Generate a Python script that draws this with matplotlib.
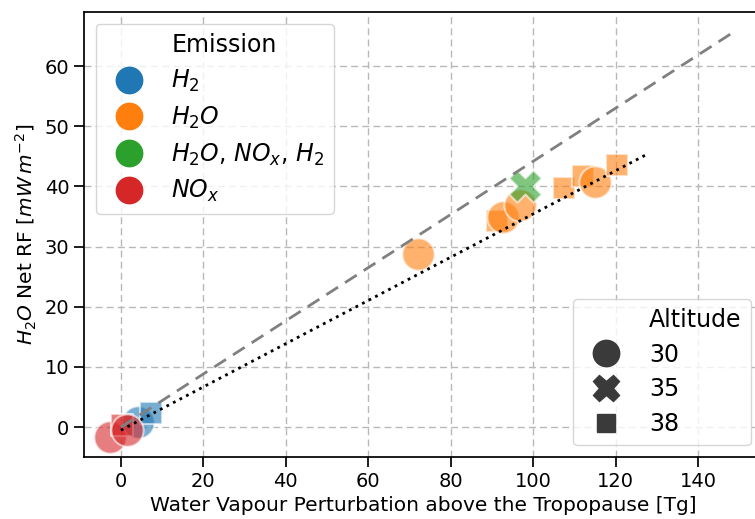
import matplotlib
matplotlib.use("Agg")
import matplotlib.pyplot as plt
from matplotlib.lines import Line2D

# data
emission = ["H2O", "H2O", "H2O", "H2O", "H2O", "H2O", "H2O", "H2O",
            "H2O, NOx, H2", "H2", "H2", "NOx", "NOx", "NOx"]
altitude = [30, 38, 30, 30, 38, 38, 30, 38,
            35, 30, 38, 30, 38, 30]
wv_tg = [72.1, 91.3, 92.7, 96.8, 107.5, 112.0, 115.0, 120.4,
         98.0, 4.2, 7.4, -2.7, 0.2, 1.5]
net_rf = [28.7, 34.3, 35.0, 37.0, 39.8, 41.8, 40.8, 43.5,
          40.0, 0.8, 2.3, -1.7, 0.3, -0.5]

emission_order = ["H2", "H2O", "H2O, NOx, H2", "NOx"]
emission_labels = ["$H_2$", "$H_2O$", "$H_2O$, $NO_x$, $H_2$", "$NO_x$"]
emission_colors = ["#1f77b4", "#ff7f0e", "#2ca02c", "#d62728"]
altitude_order = [30, 35, 38]
altitude_markers = ["o", "X", (4, 0, 45)]

# reference lines
dash_x = [0, 148]
dash_y = [0, 65.4]
dot_x = [0, 128]
dot_y = [-0.5, 45.5]

fig = plt.figure(figsize=(7.55, 5.19), dpi=100)
ax = fig.add_axes([0.111, 0.119, 0.899, 0.858])

cmap = dict(zip(emission_order, emission_colors))
mmap = dict(zip(altitude_order, altitude_markers))
for e, a, x, y in zip(emission, altitude, wv_tg, net_rf):
    ax.scatter(x, y, s=540, c=cmap[e], marker=mmap[a], alpha=0.6,
               edgecolors="white", linewidths=1.5, zorder=3)

ax.plot(dash_x, dash_y, ls=(0, (5, 3)), color="grey", lw=2, zorder=4)
ax.plot(dot_x, dot_y, ls=":", color="black", lw=2, zorder=4)

ax.set_xlim(-9, 155.6)
ax.set_ylim(-5, 69)
ax.set_xticks(range(0, 141, 20))
ax.set_yticks(range(0, 61, 10))
ax.tick_params(labelsize=14, length=7, width=1.25)
for s in ax.spines.values():
    s.set_linewidth(1.25)
ax.grid(True, ls=(0, (5, 3)), color="#b8b8b8", lw=1)
ax.set_axisbelow(True)
ax.set_xlabel("Water Vapour Perturbation above the Tropopause [Tg]", fontsize=14.5)
ax.set_ylabel(r"$H_2O$ Net RF [$mW\,m^{-2}$]", fontsize=14.5)

blank = Line2D([], [], ls="", marker="")
h1 = [blank] + [Line2D([], [], ls="", marker="o", markersize=19, color=c)
                for c in emission_colors]
leg1 = ax.legend(h1, ["Emission"] + emission_labels, loc="upper left",
                 fontsize=17, handletextpad=0.8, borderaxespad=0.5,
                 labelspacing=0.45)
ax.add_artist(leg1)

h2 = [blank] + [Line2D([], [], ls="", marker=m, markersize=19, color="#3a3a3a")
                for m in altitude_markers]
ax.legend(h2, ["Altitude"] + [str(a) for a in altitude_order], loc="lower right",
          fontsize=17, handletextpad=0.8, borderaxespad=0.5, labelspacing=0.45)

fig.savefig("out.png", dpi=100)
